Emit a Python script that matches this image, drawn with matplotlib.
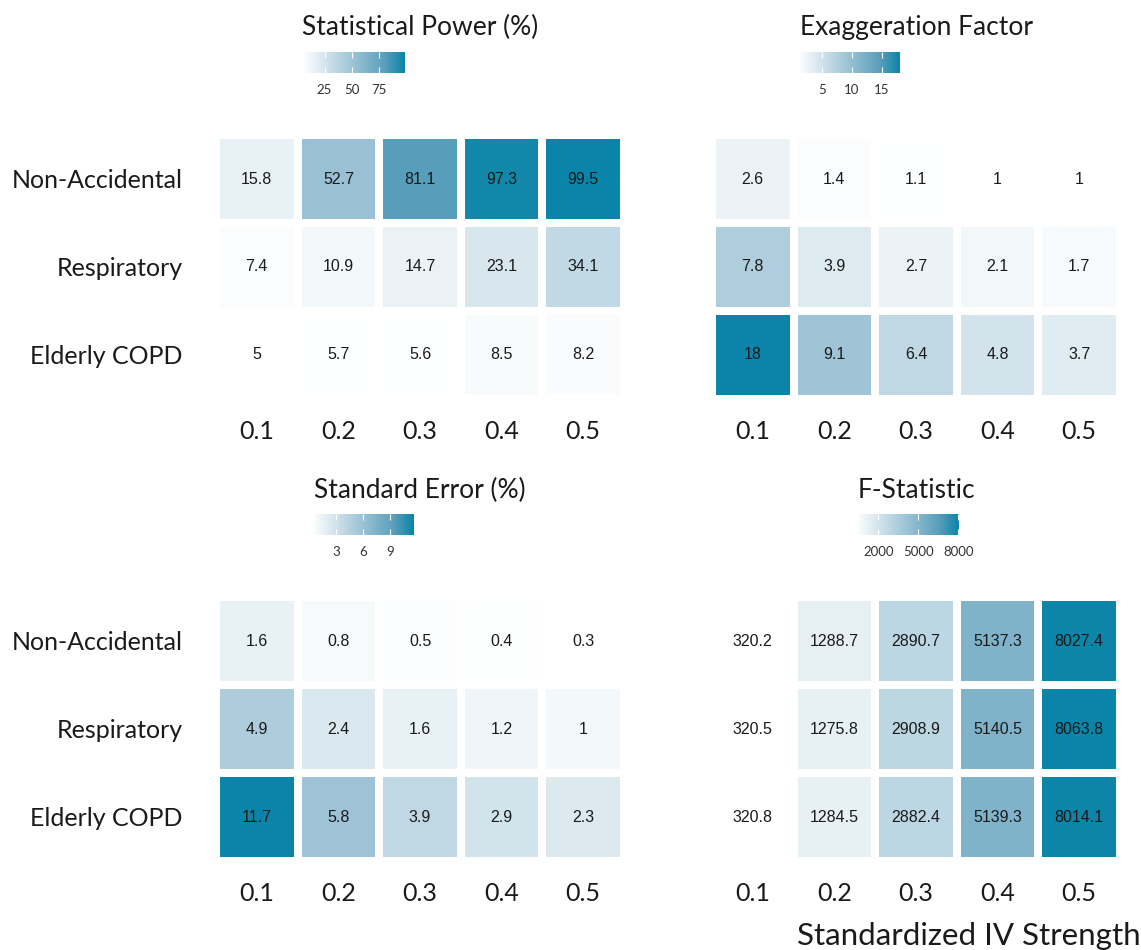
import numpy as np
import matplotlib
matplotlib.use("Agg")
import matplotlib.pyplot as plt
from matplotlib.colors import LinearSegmentedColormap, Normalize
from matplotlib.patches import Rectangle
from matplotlib.cm import ScalarMappable

plt.rcParams['font.family'] = ['Lato', 'DejaVu Sans']

strengths = ["0.1", "0.2", "0.3", "0.4", "0.5"]
outcomes = ["Non-Accidental", "Respiratory", "Elderly COPD"]

power = [[15.8, 52.7, 81.1, 97.3, 99.5],
         [7.4, 10.9, 14.7, 23.1, 34.1],
         [5, 5.7, 5.6, 8.5, 8.2]]
exaggeration = [[2.6, 1.4, 1.1, 1, 1],
                [7.8, 3.9, 2.7, 2.1, 1.7],
                [18, 9.1, 6.4, 4.8, 3.7]]
std_error = [[1.6, 0.8, 0.5, 0.4, 0.3],
             [4.9, 2.4, 1.6, 1.2, 1],
             [11.7, 5.8, 3.9, 2.9, 2.3]]
f_stat = [[320.2, 1288.7, 2890.7, 5137.3, 8027.4],
          [320.5, 1275.8, 2908.9, 5140.5, 8063.8],
          [320.8, 1284.5, 2882.4, 5139.3, 8014.1]]

titles = ["Statistical Power (%)", "Exaggeration Factor", "Standard Error (%)", "F-Statistic"]
bar_ticks = [[25, 50, 75], [5, 10, 15], [3, 6, 9], [2000, 5000, 8000]]

cmap = LinearSegmentedColormap.from_list(
    "teal", [(0, "#ffffff"), (0.5, "#9ac1d4"), (0.8, "#5a9fbb"), (1, "#0a84a8")])

W, H = 1141, 950
fig = plt.figure(figsize=(W / 100, H / 100), dpi=100)


def px_axes(x0, y0, x1, y1):
    # pixel box (top-left origin) -> figure axes
    return fig.add_axes([x0 / W, 1 - y1 / H, (x1 - x0) / W, (y1 - y0) / H])


# heatmap boxes, colorbar boxes, title centres
heat_boxes = [(216, 135, 624, 399), (712, 135, 1120, 399),
              (216, 597, 624, 861), (712, 597, 1120, 861)]
bar_boxes = [(303, 52, 405, 73), (798, 52, 900, 73),
             (312, 514, 414, 535), (856, 514, 959, 535)]
title_pos = [(420, 27), (916, 27), (420, 490), (916, 490)]

datasets = [power, exaggeration, std_error, f_stat]

for k, data in enumerate(datasets):
    arr = np.array(data, dtype=float)
    norm = Normalize(arr.min(), arr.max())
    ax = px_axes(*heat_boxes[k])
    for i in range(len(outcomes)):
        for j in range(len(strengths)):
            v = arr[i, j]
            ax.add_patch(Rectangle((j + 1 - 0.45, i + 1 - 0.45), 0.9, 0.9,
                                   facecolor=cmap(norm(v)), edgecolor='none'))
            ax.text(j + 1, i + 1, f"{v:g}", ha='center', va='center',
                    fontsize=11.5, family='Liberation Sans', color='#1a1a1a')
    ax.set_xlim(0.5, 5.5)
    ax.set_ylim(3.5, 0.5)
    ax.set_xticks(range(1, 6))
    ax.set_xticklabels(strengths)
    ax.set_yticks(range(1, 4))
    if k % 2 == 0:
        ax.set_yticklabels(outcomes)
    else:
        ax.set_yticklabels([])
    ax.tick_params(length=0, labelsize=18, colors='#1a1a1a')
    ax.tick_params(axis='y', pad=24)
    ax.tick_params(axis='x', pad=15)
    for s in ax.spines.values():
        s.set_visible(False)

    cax = px_axes(*bar_boxes[k])
    cb = fig.colorbar(ScalarMappable(norm=norm, cmap=cmap), cax=cax,
                      orientation='horizontal')
    cb.outline.set_visible(False)
    cb.set_ticks(bar_ticks[k])
    cax.tick_params(axis='x', direction='in', length=4, width=0.8, color='white',
                    top=True, bottom=True, labelsize=9.5, labelcolor='#333333', pad=8)

    tx, ty = title_pos[k]
    fig.text(tx / W, 1 - ty / H, titles[k], ha='center', va='center',
             fontsize=19, color='#1a1a1a')

fig.text(1141 / W, 1 - 922 / H, "Standardized IV Strength", ha='right', va='top',
         fontsize=22.5, color='#1a1a1a')

fig.savefig("out.png", dpi=100)
